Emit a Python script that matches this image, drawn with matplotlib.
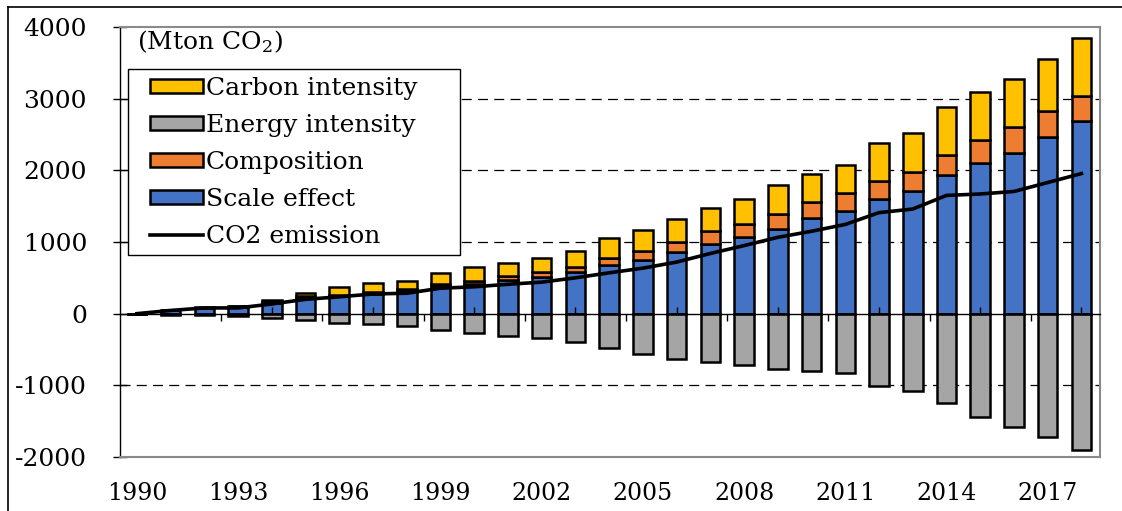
import matplotlib
matplotlib.use("Agg")
import matplotlib.pyplot as plt
import numpy as np
from matplotlib.lines import Line2D
from matplotlib.patches import Rectangle
from matplotlib.legend_handler import HandlerPatch, HandlerLine2D

# Decomposition of CO2 emission change relative to 1990 (Mton CO2)
years = list(range(1990, 2019))
scale_effect = [0, 45, 80, 100, 150, 225, 243, 280, 312, 382,
                420, 476, 510, 578, 676, 755, 863, 975, 1073, 1185,
                1329, 1432, 1595, 1711, 1931, 2099, 2248, 2472, 2691]
composition = [0, 3, 5, 4, 8, 20, 23, 28, 38, 38,
               42, 46, 68, 75, 103, 126, 139, 177, 172, 200,
               224, 256, 256, 271, 279, 326, 363, 359, 340]
carbon_intensity = [0, 10, 15, 8, 38, 40, 102, 122, 102, 149,
                    183, 183, 194, 228, 270, 285, 313, 322, 359, 410,
                    392, 387, 527, 545, 667, 671, 663, 722, 812]
energy_intensity = [0, -12, -22, -38, -62, -85, -125, -145, -168, -224,
                    -275, -312, -345, -401, -485, -560, -634, -672, -713, -769,
                    -797, -830, -1003, -1077, -1240, -1436, -1586, -1716, -1903]
co2_emission = [0, 45, 80, 80, 135, 200, 235, 275, 285, 355,
                375, 410, 440, 500, 570, 635, 720, 840, 950, 1065,
                1150, 1245, 1410, 1460, 1650, 1670, 1705, 1830, 1955]

y_ticks = [-2000, -1000, 0, 1000, 2000, 3000, 4000]
y_ticklabels = ["-2000", "-1000", "0", "1000", "2000", "3000", "4000"]
series_labels = ["Carbon intensity", "Energy intensity", "Composition",
                 "Scale effect", "CO2 emission"]

plt.rcParams["font.family"] = ["DejaVu Serif"]
plt.rcParams["font.size"] = 18
plt.rcParams["mathtext.default"] = "regular"
plt.rcParams["axes.unicode_minus"] = False

W, H = 1122, 511
fig = plt.figure(figsize=(W / 100, H / 100), dpi=100)
ax = fig.add_axes([120 / W, 54 / H, 980 / W, 430 / H])

x = np.arange(len(years))
bw = 0.58
edge = dict(edgecolor="black", linewidth=1.8, zorder=2)
b_scale = ax.bar(x, scale_effect, bw, color="#4472C4", **edge)
b_comp = ax.bar(x, composition, bw, bottom=scale_effect, color="#ED7D31", **edge)
b_carb = ax.bar(x, carbon_intensity, bw,
                bottom=np.add(scale_effect, composition), color="#FFC000", **edge)
b_energy = ax.bar(x, energy_intensity, bw, color="#A5A5A5", **edge)
line, = ax.plot(x, co2_emission, color="black", lw=2.6, zorder=4,
                solid_joinstyle="round")

ax.set_xlim(-0.5, 28.55)
ax.set_ylim(y_ticks[0], y_ticks[-1])

# dashed horizontal gridlines (excluding the frame edges and zero line)
for v in y_ticks[1:-1]:
    if v != 0:
        ax.axhline(v, color="black", lw=0.9, linestyle=(0, (8, 5)), zorder=0.5)

ax.set_yticks(y_ticks)
ax.set_yticklabels(y_ticklabels)
ax.tick_params(axis="y", direction="inout", length=9.5, width=1, pad=19,
               colors="black")

# category labels at the bottom of the frame
ax.set_xticks(x[::3])
ax.set_xticklabels([str(y) for y in years[::3]], fontsize=17)
ax.tick_params(axis="x", length=0, pad=18)

for s in ["top", "right", "bottom"]:
    ax.spines[s].set_color("#8a8a8a")
    ax.spines[s].set_linewidth(1.5)
ax.spines["left"].set_color("black")
ax.spines["left"].set_linewidth(1.0)

# horizontal axis line through zero with category tick marks
zero_frac = (0 - y_ticks[0]) / (y_ticks[-1] - y_ticks[0])
sec = ax.secondary_xaxis(zero_frac)
sec.set_zorder(3)
sec.spines["bottom"].set_color("black")
sec.spines["bottom"].set_linewidth(1.0)
sec.set_xticks(x[2:-1:3] + 0.5)
sec.set_xticks(x[4::3], minor=True)
sec.tick_params(which="major", direction="out", length=5, width=1,
                labelbottom=False)
sec.tick_params(which="minor", direction="in", length=5, width=1,
                labelbottom=False)

ax.text((137 - 120) / 980, (457 - 42) / 430, "(Mton CO$_2$)",
        transform=ax.transAxes, ha="left", va="center", fontsize=18)

handles = [b_carb[-1], b_energy[-1], b_comp[-1], b_scale[-1], line]
leg = ax.legend(handles, series_labels, loc="upper left", mode="expand",
                bbox_to_anchor=((128 - 120) / 980, (457 - 252) / 430,
                                332 / 980, 183 / 430),
                borderaxespad=0, frameon=True, fancybox=False, framealpha=1,
                edgecolor="black", handlelength=2.7, handleheight=0.5,
                handletextpad=0.1, labelspacing=0.56, borderpad=0.3,
                handler_map={Rectangle: HandlerPatch(xpad=0.58),
                             Line2D: HandlerLine2D(xpad=0.58)})
leg.get_frame().set_linewidth(1.0)

# outer border along the top and left edges
fig.add_artist(Line2D([8 / W, 1], [1 - 7 / H, 1 - 7 / H],
                      transform=fig.transFigure, color="black", lw=1.2))
fig.add_artist(Line2D([8 / W, 8 / W], [0, 1 - 7 / H],
                      transform=fig.transFigure, color="black", lw=1.2))

fig.savefig("out.png", dpi=100)
